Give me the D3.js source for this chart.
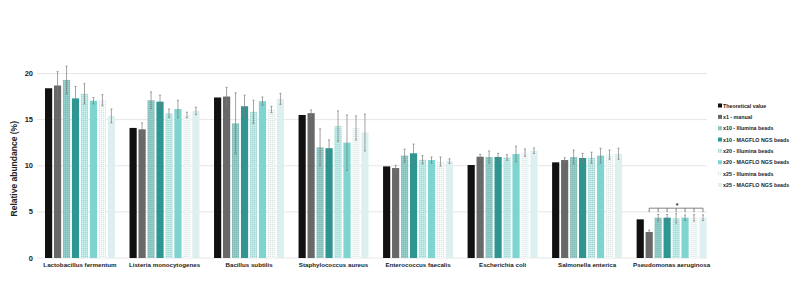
<!DOCTYPE html>
<html>
<head>
<meta charset="utf-8">
<script src="https://cdn.jsdelivr.net/npm/d3@7"></script>
<style>
  body { margin: 0; background: #fff; }
  text { font-family: "Liberation Sans", Arial, sans-serif; font-weight: bold; }
</style>
</head>
<body>
<svg id="chart" width="800" height="298"></svg>
<script>
// categories on the x axis
const species = ['Lactobacillus fermentum', 'Listeria monocytogenes', 'Bacillus subtilis',
  'Staphylococcus aureus', 'Enterococcus faecalis', 'Escherichia coli',
  'Salmonella enterica', 'Pseudomonas aeruginosa'];

// series names (legend order)
const seriesNames = ['Theoretical value', 'x1 - manual', 'x10 - Illumina beads',
  'x10 - MAGFLO NGS beads', 'x20 - Illumina beads', 'x20 - MAGFLO NGS beads',
  'x25 - Illumina beads', 'x25 - MAGFLO NGS beads'];

// mean values, one array per species, in series order
const means = [
  [18.4, 18.7, 19.3, 17.3, 17.8, 17.05, 17.1, 15.4],
  [14.1, 13.95, 17.1, 16.95, 15.7, 16.15, 15.5, 15.95],
  [17.4, 17.5, 14.6, 16.45, 15.85, 17.0, 16.1, 17.25],
  [15.5, 15.7, 12.0, 11.9, 14.3, 12.5, 14.1, 13.6],
  [9.93, 9.75, 11.1, 11.35, 10.65, 10.62, 10.45, 10.5],
  [10.08, 10.98, 10.95, 10.95, 10.9, 11.27, 11.42, 11.63],
  [10.37, 10.62, 10.95, 10.84, 10.87, 11.1, 11.2, 11.3],
  [4.19, 2.82, 4.37, 4.37, 4.3, 4.37, 4.35, 4.37]
];

// standard deviations (0 = no error bar)
const errors = [
  [0, 1.5, 1.5, 1.3, 1.1, 0.35, 0.6, 0.75],
  [0, 0.7, 0.9, 0.7, 0.45, 0.95, 0.3, 0.4],
  [0, 1.0, 3.3, 1.2, 1.25, 0.45, 0.35, 0.6],
  [0, 0.35, 2.0, 0.9, 1.65, 3.0, 1.3, 2.0],
  [0, 0.3, 0.7, 1.0, 0.45, 0.33, 0.5, 0.25],
  [0, 0.25, 0.65, 0.4, 0.3, 0.85, 0.4, 0.3],
  [0, 0.25, 0.75, 0.5, 0.6, 0.8, 0.5, 0.6],
  [0, 0.2, 0.35, 0.35, 0.5, 0.3, 0.35, 0.3]
];

const yTicks = [0, 5, 10, 15, 20];

const colors = ['#111111', '#686868', '#8ec7c3', '#2f9590', '#b9e6e3', '#7ed5d0', '#eef8f7', '#ddf0ef'];
const hatched = [false, false, true, false, true, false, true, false];

const svg = d3.select('#chart');

// patterns for the "Illumina" series
const defs = svg.append('defs');
colors.forEach((c, i) => {
    if (!hatched[i]) return;
    const p = defs.append('pattern')
        .attr('id', `pat${i}`)
        .attr('width', 2)
        .attr('height', 2)
        .attr('patternUnits', 'userSpaceOnUse');
    p.append('rect').attr('width', 2).attr('height', 2).attr('fill', c);
    p.append('rect').attr('width', 1).attr('height', 1)
        .attr('fill', d3.color(c).darker(0.25));
    p.append('rect').attr('x', 1).attr('y', 1).attr('width', 1).attr('height', 1)
        .attr('fill', d3.color(c).brighter(0.2));
});
const fillFor = i => hatched[i] ? `url(#pat${i})` : colors[i];

// scales
const y = d3.scaleLinear().domain([0, 20]).range([258, 73.5]);
const x0 = d3.scaleBand().domain(species).range([45, 706.6]).paddingInner(0.172).paddingOuter(0);
const x1 = d3.scaleBand().domain(d3.range(seriesNames.length)).range([0, x0.bandwidth()])
    .paddingInner(0.2).paddingOuter(0);

// gridlines
svg.append('g')
    .selectAll('line')
    .data(yTicks)
    .join('line')
    .attr('x1', 37)
    .attr('x2', 707)
    .attr('y1', d => y(d))
    .attr('y2', d => y(d))
    .attr('stroke', '#e6e6e6')
    .attr('stroke-width', 1);

// y tick labels
svg.append('g')
    .selectAll('text')
    .data(yTicks)
    .join('text')
    .attr('x', 33)
    .attr('y', d => y(d) + 2.5)
    .attr('text-anchor', 'end')
    .style('font-size', '7.5px')
    .style('fill', '#222')
    .text(d => d);

// y axis title
svg.append('text')
    .attr('transform', `translate(17, ${y(10) + 3}) rotate(-90)`)
    .attr('text-anchor', 'middle')
    .style('font-size', '8.5px')
    .style('fill', '#222')
    .text('Relative abundance (%)');

// bars
const groups = svg.append('g')
    .selectAll('g')
    .data(species)
    .join('g')
    .attr('transform', d => `translate(${x0(d)},0)`);

groups.selectAll('rect')
    .data((d, gi) => means[gi].map((v, si) => ({ v, si, e: errors[gi][si] })))
    .join('rect')
    .attr('x', d => x1(d.si))
    .attr('y', d => y(d.v))
    .attr('width', x1.bandwidth())
    .attr('height', d => y(0) - y(d.v))
    .attr('fill', d => fillFor(d.si));

// error bars
const eb = groups.selectAll('g.err')
    .data((d, gi) => means[gi].map((v, si) => ({ v, si, e: errors[gi][si] })).filter(d => d.e > 0))
    .join('g')
    .attr('class', 'err')
    .attr('stroke', '#7a7a7a')
    .attr('stroke-width', 0.7);

eb.append('line')
    .attr('x1', d => x1(d.si) + x1.bandwidth() / 2)
    .attr('x2', d => x1(d.si) + x1.bandwidth() / 2)
    .attr('y1', d => y(d.v + d.e))
    .attr('y2', d => y(d.v - d.e));
eb.append('line')
    .attr('x1', d => x1(d.si) + x1.bandwidth() / 2 - 1)
    .attr('x2', d => x1(d.si) + x1.bandwidth() / 2 + 1)
    .attr('y1', d => y(d.v + d.e))
    .attr('y2', d => y(d.v + d.e));
eb.append('line')
    .attr('x1', d => x1(d.si) + x1.bandwidth() / 2 - 1)
    .attr('x2', d => x1(d.si) + x1.bandwidth() / 2 + 1)
    .attr('y1', d => y(d.v - d.e))
    .attr('y2', d => y(d.v - d.e));

// category labels
svg.append('g')
    .selectAll('text')
    .data(species)
    .join('text')
    .attr('x', d => x0(d) + x0.bandwidth() / 2)
    .attr('y', 267)
    .attr('text-anchor', 'middle')
    .style('font-size', '6.2px')
    .style('fill', '#222')
    .text(d => d);

// significance bracket on Pseudomonas aeruginosa (x1 manual vs the rest)
const pg = species.length - 1;
const cx = si => x0(species[pg]) + x1(si) + x1.bandwidth() / 2;
const bracketY = y(5.4);
const sig = svg.append('g').attr('stroke', '#666').attr('stroke-width', 0.8);
sig.append('line')
    .attr('x1', cx(1)).attr('x2', cx(7))
    .attr('y1', bracketY).attr('y2', bracketY);
d3.range(1, 8).forEach(si => {
    sig.append('line')
        .attr('x1', cx(si)).attr('x2', cx(si))
        .attr('y1', bracketY).attr('y2', bracketY + 4);
});
svg.append('text')
    .attr('x', (cx(1) + cx(7)) / 2 + 1)
    .attr('y', bracketY - 0.5)
    .attr('text-anchor', 'middle')
    .style('font-size', '7px')
    .style('fill', '#333')
    .text('*');

// legend
const legend = svg.append('g').attr('transform', 'translate(718, 106)');
seriesNames.forEach((name, i) => {
    const item = legend.append('g').attr('transform', `translate(0, ${i * 11.35})`);
    item.append('rect')
        .attr('x', 0)
        .attr('y', -2.5)
        .attr('width', 4)
        .attr('height', 4)
        .attr('fill', fillFor(i));
    item.append('text')
        .attr('x', 5)
        .attr('y', 1.5)
        .style('font-size', '5.3px')
        .style('fill', '#222')
        .text(name);
});
</script>
</body>
</html>
